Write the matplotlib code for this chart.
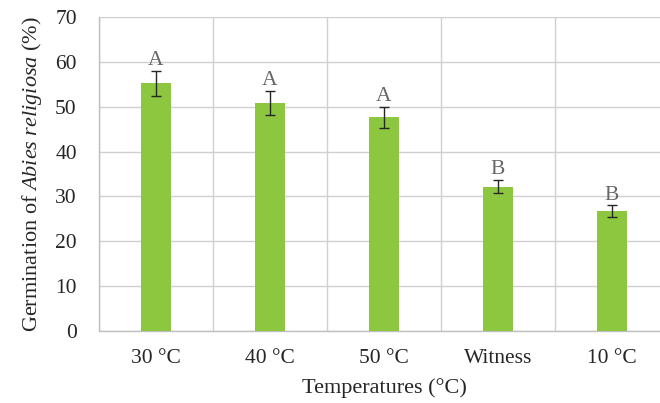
import matplotlib
matplotlib.use("Agg")
import matplotlib.pyplot as plt
import numpy as np

categories = ["30 °C", "40 °C", "50 °C", "Witness", "10 °C"]
values = [55.2, 50.9, 47.6, 32.2, 26.8]
errors = [2.8, 2.7, 2.4, 1.5, 1.3]
letters = ["A", "A", "A", "B", "B"]
yticks = [0, 10, 20, 30, 40, 50, 60, 70]

plt.rcParams['font.family'] = ['Liberation Serif', 'DejaVu Serif']
plt.rcParams['mathtext.fontset'] = 'custom'
plt.rcParams['mathtext.it'] = 'Liberation Serif:italic'
plt.rcParams['mathtext.rm'] = 'Liberation Serif'

fig = plt.figure(figsize=(6.6, 4.03), dpi=100)
ax = fig.add_axes([99/660, 1-331/403, 570/660, 314/403])

x = np.arange(len(categories))
ax.bar(x, values, width=0.27, color='#8DC63F', zorder=3)
ax.errorbar(x, values, yerr=errors, fmt='none', ecolor='#262626', elinewidth=1.0,
            capsize=3.5, capthick=1.0, zorder=4)
for xi, v, e, l in zip(x, values, errors, letters):
    ax.text(xi, v + e + 0.1, l, ha='center', va='bottom', fontsize=15.5, color='#666666', zorder=5)

ax.set_xlim(-0.5, len(categories) - 0.5)
ax.set_ylim(0, 70)
ax.set_yticks(yticks)
ax.set_xticks(x)
ax.set_xticklabels(categories)
ax.set_xticks(np.arange(-0.5, len(categories), 1), minor=True)
ax.grid(True, which='major', axis='y', color='#D0D0D0', linewidth=1.0, zorder=0)
ax.grid(True, which='minor', axis='x', color='#D0D0D0', linewidth=1.0, zorder=0)
ax.tick_params(axis='both', which='both', length=0, labelsize=15.5, colors='#262626')
ax.tick_params(axis='x', pad=13)
ax.tick_params(axis='y', pad=16)
for s in ['top', 'right']:
    ax.spines[s].set_visible(False)
for s in ['left', 'bottom']:
    ax.spines[s].set_color('#BFBFBF')
    ax.spines[s].set_linewidth(1.0)

ax.set_xlabel("Temperatures (°C)", fontsize=16, color='#262626', labelpad=7)
ax.set_ylabel(r"Germination of $Abies\ religiosa$ (%)", fontsize=16, color='#262626', labelpad=8)

fig.savefig("out.png", dpi=100)
